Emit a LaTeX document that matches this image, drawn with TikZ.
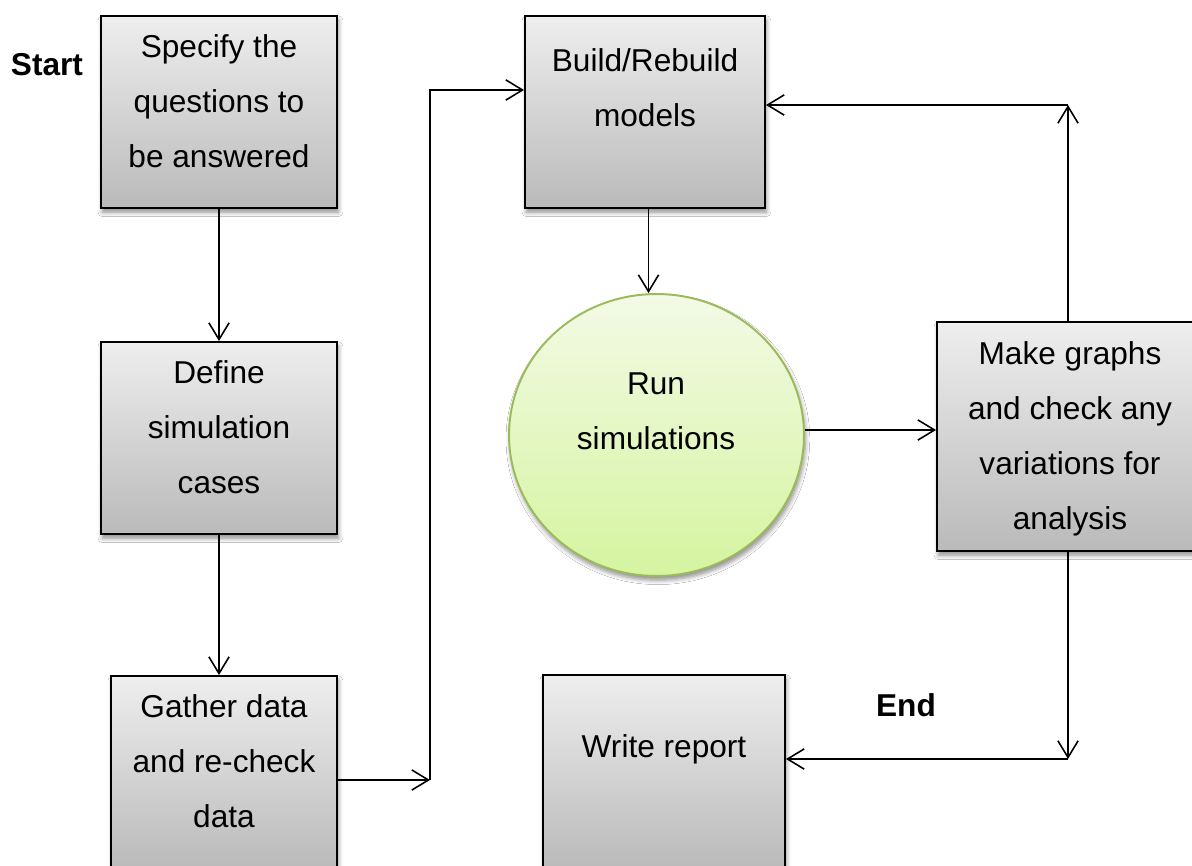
\documentclass[tikz,border=0pt]{standalone}
\usepackage{fontspec}
\setmainfont{Liberation Sans}
\usetikzlibrary{arrows.meta,shadows.blur,shapes.geometric}

\definecolor{boxtop}{RGB}{238,238,238}
\definecolor{boxbot}{RGB}{186,186,186}
\definecolor{simtop}{RGB}{243,250,230}
\definecolor{simbot}{RGB}{213,244,160}
\definecolor{simedge}{RGB}{155,187,89}

\tikzset{
  softshadow/.style={blur shadow={shadow xshift=0.8pt, shadow yshift=-2.4pt,
      shadow blur radius=2.5pt, shadow blur steps=6, shadow opacity=45}},
  procbox/.style={draw=black, line width=1.1pt, rectangle, inner sep=0pt,
      top color=boxtop, bottom color=boxbot, softshadow},
  simblob/.style={ellipse, draw=simedge, line width=1.1pt, inner sep=0pt,
      top color=simtop, bottom color=simbot, softshadow},
  % multi-line labels are anchored on their last line
  boxtext/.style={align=center, inner sep=0pt,
      font=\fontsize{18}{31.3}\selectfont, text height=13pt, text depth=4pt},
  tagtext/.style={inner sep=0pt, font=\fontsize{18}{22}\selectfont\bfseries},
  flow/.style={line width=0.9pt,
      -{Straight Barb[length=9.5pt,width=11.5pt,line width=0.9pt]}}
}

\begin{document}
\begin{tikzpicture}[x=0.02cm, y=-0.02cm]
\clip (0,0) rectangle (1192,865);
\fill[white] (0,0) rectangle (1192,865);

% process boxes
\node[procbox, minimum width=4.72cm, minimum height=3.84cm] (spec)   at (219,112) {};
\node[procbox, minimum width=4.72cm, minimum height=3.84cm] (define) at (219,438) {};
\node[procbox, minimum width=4.52cm, minimum height=3.84cm] (gather) at (224,772) {};
\node[procbox, minimum width=4.80cm, minimum height=3.84cm] (build)  at (645,112) {};
\node[procbox, minimum width=5.32cm, minimum height=4.58cm] (graphs) at (1070,436.5) {};
\node[procbox, minimum width=4.84cm, minimum height=3.84cm] (report) at (664,771) {};
\node[simblob, minimum width=5.90cm, minimum height=5.64cm] (sim)    at (656.5,435) {};

% box texts (position = last line)
\node[boxtext] (spec-t)   at (219,160) {Specify the\\questions to\\be answered};
\node[boxtext] (define-t) at (219,486) {Define\\simulation\\cases};
\node[boxtext] (gather-t) at (224,820) {Gather data\\and re-check\\data};
\node[boxtext] (build-t)  at (645,119) {Build/Rebuild\\models};
\node[boxtext] (sim-t)    at (656,442) {Run\\simulations};
\node[boxtext] (graphs-t) at (1070,522) {Make graphs\\and check any\\variations for\\analysis};
\node[boxtext] (report-t) at (664,750) {Write report};

% start / end tags
\node[tagtext] (start) at (47,65)  {Start};
\node[tagtext] (end)   at (906,705) {End};

% routing points
\coordinate (j1)  at (430,780);
\coordinate (b90) at (0,90);
\coordinate (s430) at (0,430);
\coordinate (j2)  at (1068,105);
\coordinate (j3)  at (1068,759);

% connectors
\draw[flow] (spec.south) -- (define.north);
\draw[flow] (define.south) -- (define.south |- gather.north);
\draw[flow] (gather.east |- j1) -- (j1);
\draw[flow] (j1) |- (build.west |- b90);
\draw[flow] ([xshift=2pt]build.south) -- ([xshift=2pt]build.south |- sim.north);
\draw[flow] (sim.east |- s430) -- (graphs.west |- s430);
\draw[flow] (graphs.north -| j2) -- (j2);
\draw[flow] (j2) -- (j2 -| build.east);
\draw[flow] (graphs.south -| j3) -- (j3);
\draw[flow] (j3) -- (j3 -| report.east);
\end{tikzpicture}
\end{document}
